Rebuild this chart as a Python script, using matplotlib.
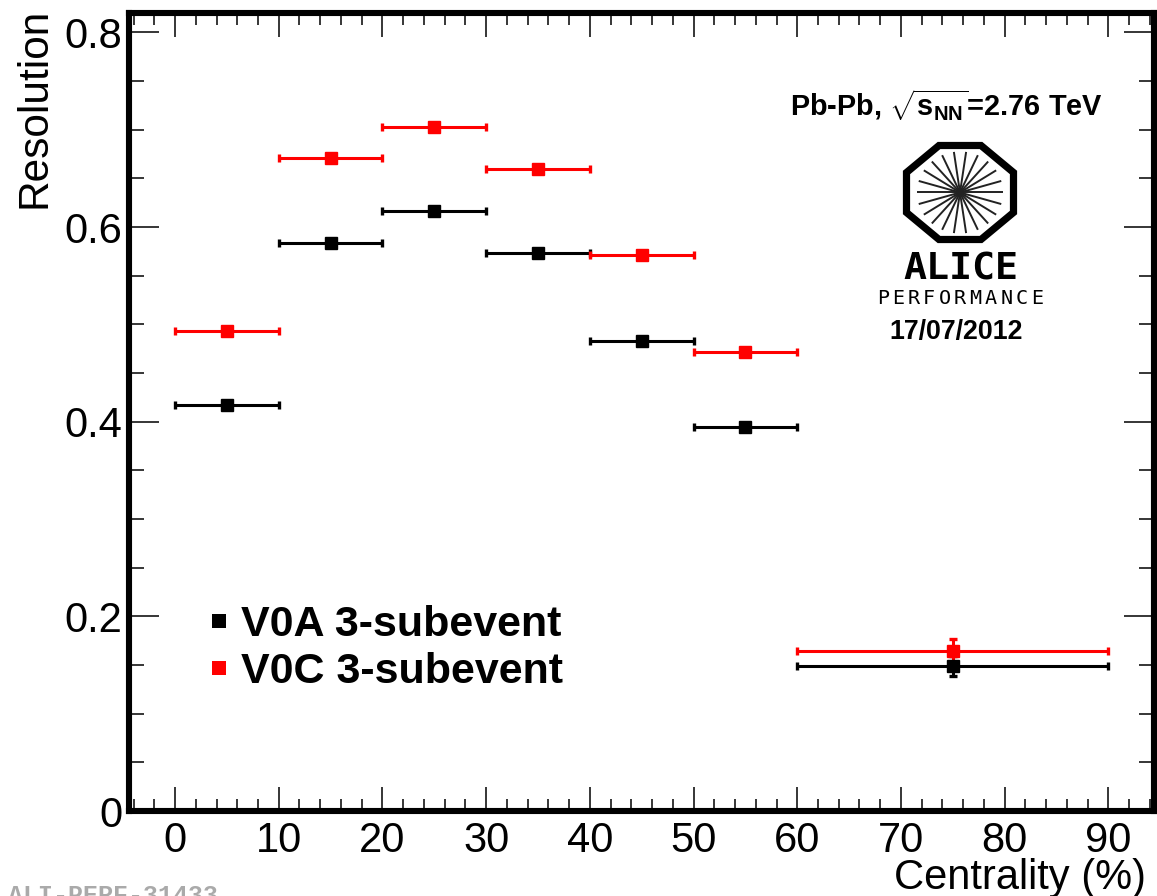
import numpy as np
import matplotlib
matplotlib.use("Agg")
import matplotlib.pyplot as plt
from matplotlib.lines import Line2D
from matplotlib.patches import Polygon
from matplotlib.ticker import MultipleLocator

plt.rcParams["font.family"] = ["Liberation Sans", "DejaVu Sans"]
plt.rcParams["mathtext.fontset"] = "custom"
plt.rcParams["mathtext.bf"] = "Liberation Sans:bold"
plt.rcParams["mathtext.rm"] = "Liberation Sans:bold"

centrality = [5, 15, 25, 35, 45, 55, 75]
bin_halfwidth = [5, 5, 5, 5, 5, 5, 15]

v0a_res = [0.417, 0.584, 0.616, 0.573, 0.483, 0.395, 0.149]
v0a_err = [0.002, 0.002, 0.002, 0.002, 0.002, 0.002, 0.010]
v0c_res = [0.493, 0.671, 0.703, 0.660, 0.571, 0.472, 0.164]
v0c_err = [0.002, 0.002, 0.002, 0.002, 0.002, 0.002, 0.013]

x_ticks = [0, 10, 20, 30, 40, 50, 60, 70, 80, 90]
y_ticks = [0, 0.2, 0.4, 0.6, 0.8]
y_ticklabels = ["0", "0.2", "0.4", "0.6", "0.8"]

W, H = 1157, 896
fig = plt.figure(figsize=(W / 100, H / 100), dpi=100)
ax = fig.add_axes([129 / W, (H - 811) / H, (1154 - 129) / W, (811 - 13) / H])

for res, err, col in [(v0a_res, v0a_err, "black"), (v0c_res, v0c_err, "red")]:
    ax.errorbar(centrality, res, xerr=bin_halfwidth, yerr=err, fmt="s", color=col,
                ms=9, elinewidth=2.2, capsize=2.6, capthick=2.4, zorder=5)

ax.set_xlim(-4.44, 94.4)
ax.set_ylim(0.0027, 0.8199)
ax.set_xticks(x_ticks)
ax.set_yticks(y_ticks)
ax.set_yticklabels(y_ticklabels)
ax.xaxis.set_minor_locator(MultipleLocator(2))
ax.yaxis.set_minor_locator(MultipleLocator(0.05))
ax.tick_params(axis="x", which="major", direction="in", top=True, length=17, width=1.1,
               labelsize=30, pad=7)
ax.tick_params(axis="x", which="minor", direction="in", top=True, length=8.6, width=1.1)
ax.tick_params(axis="y", which="major", direction="in", right=True, length=21.6, width=1.1,
               labelsize=30, pad=5)
ax.tick_params(axis="y", which="minor", direction="in", right=True, length=10.6, width=1.1)
for s in ax.spines.values():
    s.set_linewidth(4.4)

ax.set_xlabel("Centrality (%)", fontsize=30, loc="right")
ax.xaxis.set_label_coords((1146 - 129) / 1025, -0.0595)
ax.set_ylabel("Resolution", fontsize=30.5, loc="top")
ax.yaxis.set_label_coords(-0.0725, 1.0068)

handles = [Line2D([], [], ls="", marker="s", color="black", ms=10, mew=0),
           Line2D([], [], ls="", marker="s", color="red", ms=10, mew=0)]
ax.legend(handles, ["V0A 3-subevent", "V0C 3-subevent"], loc="upper left",
          bbox_to_anchor=(0.0625, 0.258), frameon=False, numpoints=1,
          prop={"weight": "bold", "size": 31}, labelspacing=0.155, handletextpad=-0.09,
          handlelength=1.2, borderpad=0, borderaxespad=0)

# overlay in pixel coordinates for the logo and its captions
ov = fig.add_axes([0, 0, 1, 1])
ov.set_xlim(0, W)
ov.set_ylim(H, 0)
ov.axis("off")

ov.text(946, 116, r"Pb-Pb, $\sqrt{\mathbf{s}_{\mathbf{NN}}}$=2.76 TeV", fontsize=20.8,
        weight="bold", ha="center", va="baseline")

cx, cy = 960, 192.5
octagon = [(cx - 21, cy - 47), (cx + 21, cy - 47), (cx + 53.5, cy - 20), (cx + 53.5, cy + 20),
           (cx + 21, cy + 47), (cx - 21, cy + 47), (cx - 53.5, cy + 20), (cx - 53.5, cy - 20)]
ov.add_patch(Polygon(octagon, closed=True, fill=False, ec="black", lw=5.2, joinstyle="miter"))
for ang in np.arange(22) * 360 / 22:
    t = np.radians(ang)
    ov.plot([cx, cx + 43 * np.cos(t)], [cy, cy + 41 * np.sin(t)], color="#222222", lw=1.4,
            solid_capstyle="butt")

ov.text(960.5, 280, "ALICE", fontsize=27.5, family="DejaVu Sans Mono", weight="bold",
        ha="center", va="baseline")
for i, ch in enumerate("PERFORMANCE"):
    ov.text(883 + i * 15.4, 304, ch, fontsize=14.5, family="DejaVu Sans Mono",
            ha="center", va="baseline")
ov.text(956, 339, "17/07/2012", fontsize=19.3, weight="bold", ha="center", va="baseline")

fig.text(8 / W, (H - 903) / H, "ALI-PERF-31433", fontsize=18, family="Liberation Mono",
         weight="bold", color="#aaaaaa", ha="left", va="baseline")

fig.savefig("out.png", dpi=100)
plt.close(fig)
